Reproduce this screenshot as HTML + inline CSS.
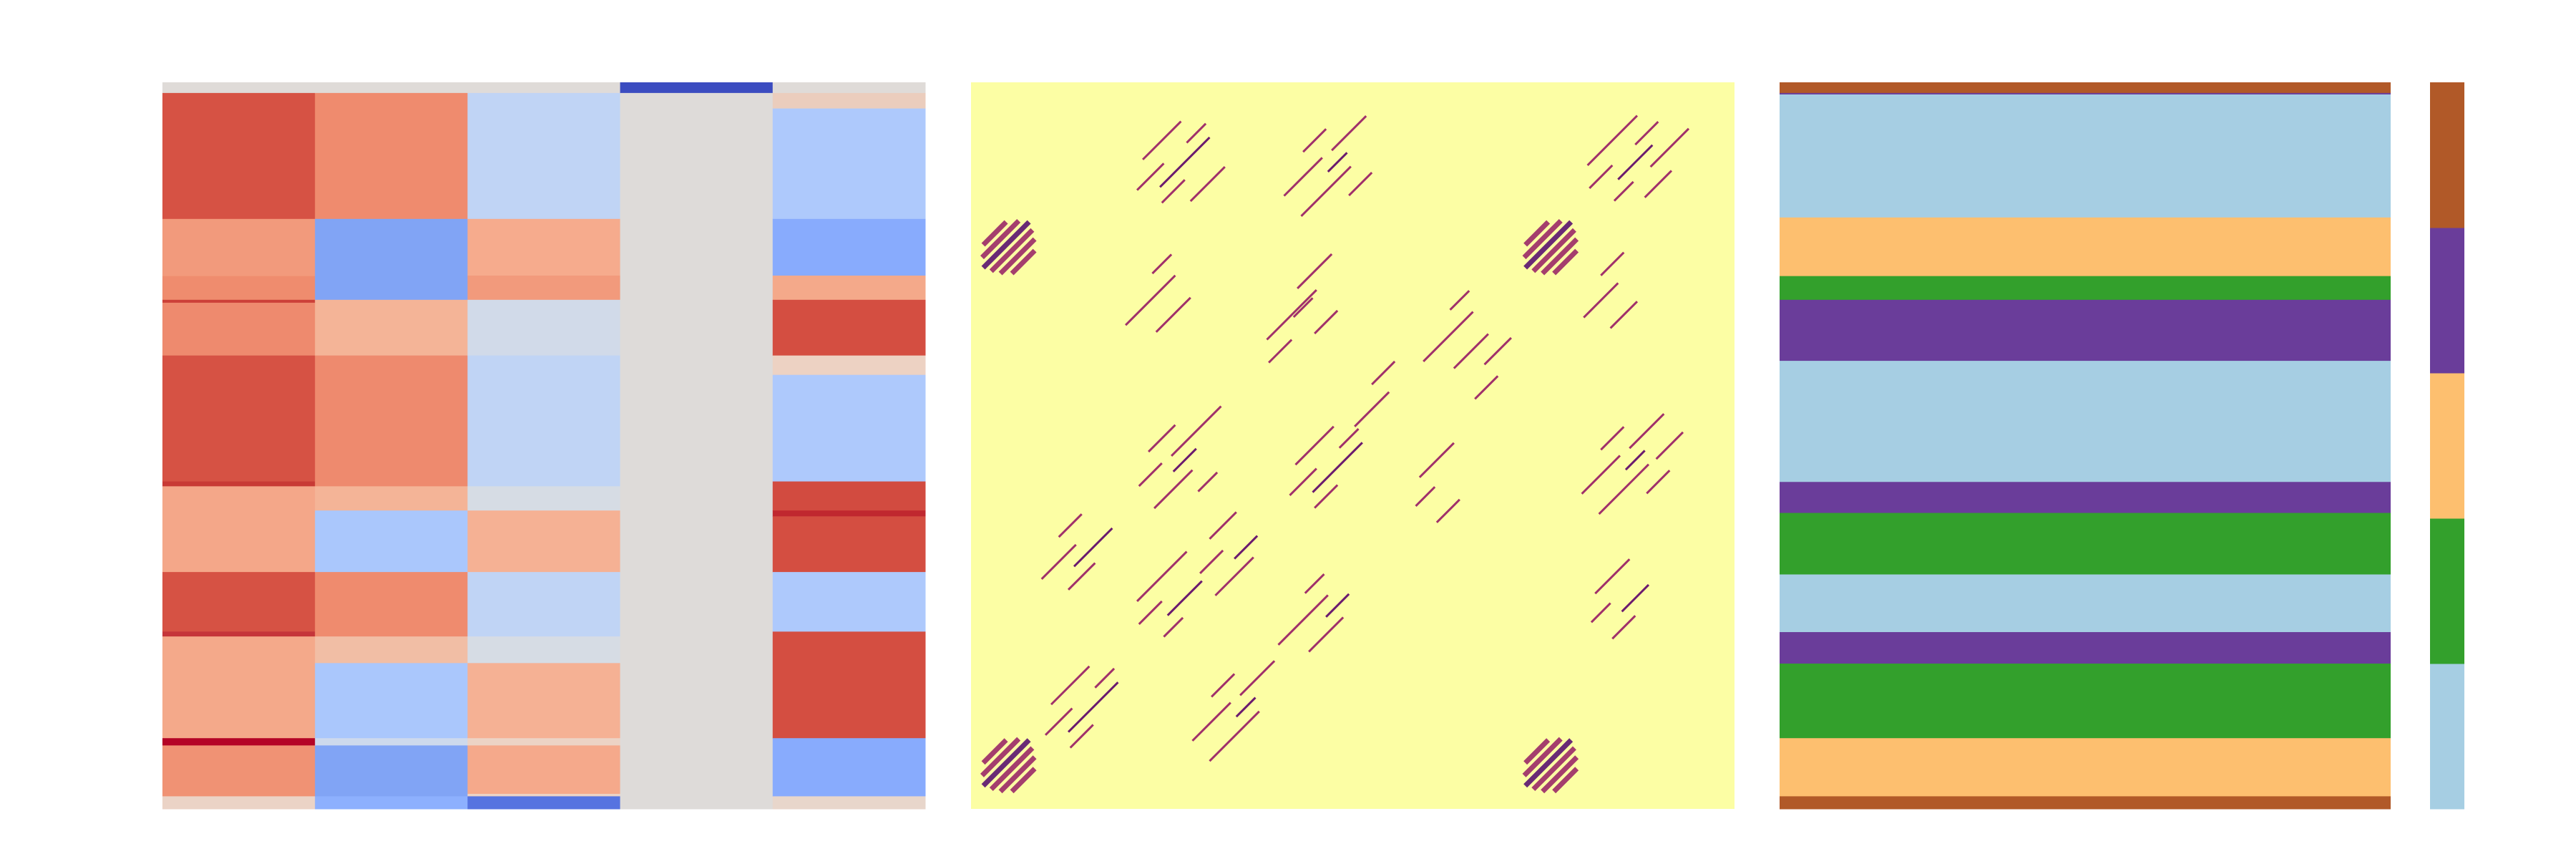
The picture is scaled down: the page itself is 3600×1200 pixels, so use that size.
<!DOCTYPE html>
<html><head><meta charset="utf-8"><style>
html,body{margin:0;padding:0;background:#fff;width:3600px;height:1200px;overflow:hidden;font-family:"Liberation Sans",sans-serif}
svg{display:block}
</style></head><body>
<svg id="fig" width="3600" height="1200" xmlns="http://www.w3.org/2000/svg">
<rect width="3600" height="1200" fill="#fff"/>
<g id="p1"></g>
<g id="p2"></g>
<g id="p3"></g>
<g id="cb"></g>
</svg>
<script>
const col1 = [[0,22,"#dfdbd8"],[22,282,"#d65244"],[282,400,"#f29a7c"],[400,449,"#ef8c6e"],[449,455,"#cc4038"],[455,564,"#ee8a6e"],[564,824,"#d65244"],[824,834,"#c83a35"],[834,1011,"#f4a789"],[1011,1134,"#d65244"],[1134,1144,"#c5353a"],[1144,1354,"#f4a98a"],[1354,1369,"#b40426"],[1369,1474,"#f09274"],[1474,1500,"#ebd3c6"]];
const col2 = [[0,22,"#dfdbd8"],[22,282,"#ef8b6e"],[282,449,"#81a4f5"],[449,564,"#f4b497"],[564,834,"#ee8a6e"],[834,884,"#f4b497"],[884,1011,"#aac7fc"],[1011,1144,"#ef8b6e"],[1144,1199,"#f1bea5"],[1199,1354,"#aac7fc"],[1354,1369,"#cdd9ec"],[1369,1474,"#81a4f5"],[1474,1500,"#8db0fe"]];
const col3 = [[0,22,"#dfdbd8"],[22,282,"#c0d4f5"],[282,399,"#f6ab8d"],[399,449,"#f29a7c"],[449,564,"#d1dae9"],[564,834,"#c0d4f5"],[834,884,"#d6dce4"],[884,1011,"#f5b194"],[1011,1144,"#c0d4f5"],[1144,1199,"#d6dce4"],[1199,1354,"#f5b194"],[1354,1369,"#ecd3c5"],[1369,1469,"#f5a98b"],[1469,1474,"#ecd3c5"],[1474,1500,"#5673e0"]];
const col4 = [[0,22,"#3b4cc0"],[22,1500,"#dedbd9"]];
const col5 = [[0,22,"#dfdbd8"],[22,54,"#ebcdbd"],[54,282,"#aec9fc"],[282,399,"#88abfd"],[399,449,"#f4a98a"],[449,564,"#d44e41"],[564,604,"#edd2c3"],[604,824,"#aec9fc"],[824,884,"#d24b40"],[884,896,"#c0282f"],[896,1011,"#d44e41"],[1011,1134,"#aec9fc"],[1134,1354,"#d44e41"],[1354,1474,"#88abfd"],[1474,1500,"#e8d6cb"]];
const heatCols = [col1,col2,col3,col4,col5];

const segStart = [0,22,25,279,400,449,575,825,889,1016,1135,1200,1354,1474];
const segEnd   = [22,25,279,400,449,575,825,889,1016,1135,1200,1354,1474,1500];
const segLabel = [4,3,0,2,1,3,0,3,1,0,3,1,2,4];
const clusterColors = ["#a6cee3","#33a02c","#fdbf6f","#6a3d9a","#b15928"];

const denseX = [0.052,0.052,0.762,0.762];
const denseY = [0.23,0.943,0.23,0.943];
const strokeX = [0.28,0.48,0.87,0.28,0.48,0.87,0.28,0.48,0.87,0.28,0.48,0.87,0.16,0.36,0.16,0.36,0.45,0.67,0.64,0.57,0.72];
const strokeY = [0.11,0.11,0.11,0.28,0.29,0.28,0.52,0.53,0.52,0.71,0.72,0.71,0.64,0.64,0.86,0.86,0.35,0.33,0.55,0.43,0.4];
const strokeN = [6,6,7,3,3,3,6,5,7,4,4,4,4,4,5,5,2,3,3,2,2];

const NS="http://www.w3.org/2000/svg";
const N=1500, Y0=115, H=1015;
function ys(v){return Y0+v/N*H;}
function mk(tag,attrs,parent){const e=document.createElementNS(NS,tag);for(const k in attrs)e.setAttribute(k,attrs[k]);parent.appendChild(e);return e;}

const p1=document.getElementById('p1');
const X1=227, W1=1066, cw=W1/heatCols.length;
heatCols.forEach((col,ci)=>{
  col.forEach(s=>{
    const r=mk('rect',{x:X1+ci*cw,y:ys(s[0]),width:cw+0.5,height:ys(s[1])-ys(s[0])+0.5,fill:s[2]},p1);
    
    
  });
});

const p2=document.getElementById('p2');
const X2=1357, W2=1067;
const bg=mk('rect',{x:X2,y:Y0,width:W2,height:H,fill:"#fcfea4"},p2);


const offX=[-0.045,-0.03,-0.015,0,0.015,0.03,0.045];
const offY=[0.02,-0.03,0.04,0,-0.04,0.03,-0.02];
const lens=[0.035,0.05,0.03,0.065,0.025,0.045,0.03];
strokeX.forEach((fx,i)=>{
  for(let j=0;j<strokeN[i];j++){
    const cx=X2+(fx+offX[j])*W2, cy=Y0+(strokeY[i]+offY[j])*H, L=lens[(i+j)%7]*W2/2;
    const l=mk('line',{x1:cx-L,y1:cy+L,x2:cx+L,y2:cy-L,stroke:(j===3?"#6a1a6e":"#a0306a"),'stroke-width':3},p2);
    
    
  }
});
const dOff=[-0.7,-0.45,-0.2,0.05,0.3,0.55];
const dLen=[0.5,0.8,1.0,0.9,0.75,0.5];
denseX.forEach((fx,i)=>{
  const cx=X2+fx*W2, cy=Y0+denseY[i]*H, s=0.03*W2;
  dOff.forEach((o,k)=>{
    const d=o*s, L=dLen[k]*s;
    const l=mk('line',{x1:cx+d-L,y1:cy+d+L,x2:cx+d+L,y2:cy+d-L,stroke:(k===2?"#5a1470":"#9b2a68"),'stroke-width':7,opacity:0.9},p2);
    
    
  });
});

const p3=document.getElementById('p3');
const X3=2487, W3=854;
segStart.forEach((s,i)=>{
  const r=mk('rect',{x:X3,y:ys(s),width:W3,height:ys(segEnd[i])-ys(s)+0.5,fill:clusterColors[segLabel[i]]},p3);
  
  
});

const cb=document.getElementById('cb');
const XC=3396, WC=48, hc=H/clusterColors.length;
clusterColors.forEach((c,k)=>{
  const r=mk('rect',{x:XC,y:Y0+H-(k+1)*hc,width:WC,height:hc+0.5,fill:c},cb);
  
  
});
</script>
</body></html>
